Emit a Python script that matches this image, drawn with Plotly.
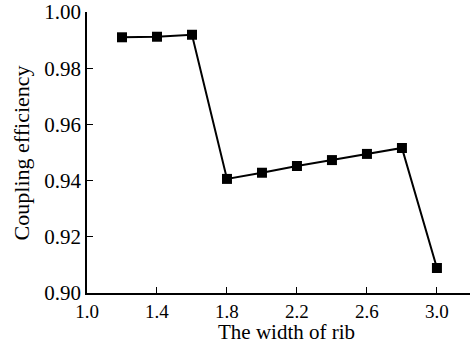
import plotly.graph_objects as go

rib_width = [1.2, 1.4, 1.6, 1.8, 2.0, 2.2, 2.4, 2.6, 2.8, 3.0]
coupling_eff = [0.991, 0.9912, 0.9919, 0.9406, 0.9428, 0.9452, 0.9473, 0.9495, 0.9516, 0.9089]
x_ticks = [1.0, 1.4, 1.8, 2.2, 2.6, 3.0]
y_ticks = [0.90, 0.92, 0.94, 0.96, 0.98, 1.00]

font_family = "Liberation Serif, Times New Roman, serif"

fig = go.Figure(go.Scatter(
    x=rib_width, y=coupling_eff, mode="lines+markers",
    line=dict(color="black", width=2),
    marker=dict(symbol="square", size=10, color="black"),
    showlegend=False, cliponaxis=False,
))

fig.update_layout(
    width=470, height=342,
    margin=dict(l=87, r=0, t=12, b=49),
    paper_bgcolor="white", plot_bgcolor="white",
    font=dict(family=font_family, color="black", size=21),
    annotations=[
        dict(text="The width of rib", xref="paper", yref="paper", x=0.52, y=-0.186,
             xanchor="center", yanchor="bottom", showarrow=False, font=dict(size=21),
             borderpad=0),
        dict(text="Coupling efficiency", xref="paper", yref="paper", x=-0.17, y=0.5,
             xanchor="center", yanchor="middle", textangle=-90, showarrow=False,
             font=dict(size=22)),
    ],
)
fig.update_xaxes(
    range=[1.0, 3.189], tickvals=x_ticks, tickformat=".1f",
    showline=True, linecolor="black", linewidth=1.5,
    ticks="inside", ticklen=6, tickcolor="black",
    showgrid=False, zeroline=False, automargin=False,
    tickfont=dict(size=19), ticklabeloverflow="allow",
)
fig.update_yaxes(
    range=[0.90, 1.00], tickvals=y_ticks, tickformat=".2f",
    showline=True, linecolor="black", linewidth=1.5,
    ticks="inside", ticklen=6, tickcolor="black",
    showgrid=False, zeroline=False, automargin=False,
    tickfont=dict(size=21), ticklabeloverflow="allow",
)

# remove the default page margin so the 470x342 figure fills the window exactly
fig.write_html("out.html", config={"displayModeBar": False},
               post_script="document.body.style.margin='0';")
